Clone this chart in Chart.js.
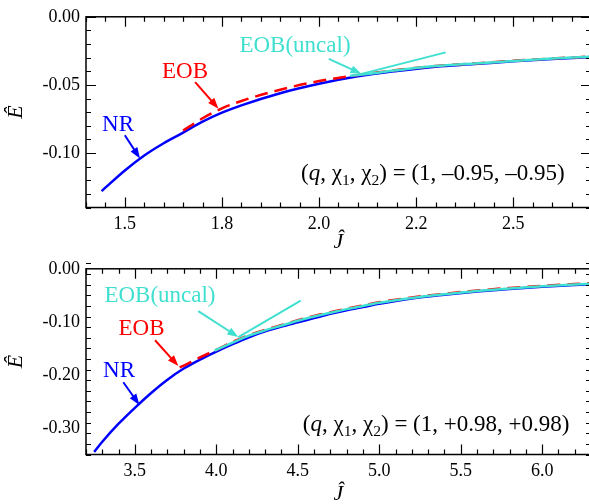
<!doctype html>
<html>
<head>
<title>E vs J</title>
<script src="https://cdn.jsdelivr.net/npm/chart.js@4.4.0/dist/chart.umd.min.js"></script>
<style>
  body { margin: 0; overflow: hidden; background: #fff; }
  .panel { position: absolute; left: 0; width: 592px; height: 252px; }
</style>
</head>
<body>
<div class="panel" style="top:0"><canvas id="topChart" width="592" height="252"></canvas></div>
<div class="panel" style="top:252px"><canvas id="bottomChart" width="592" height="252"></canvas></div>

<script>
// ---- top panel: (q, chi1, chi2) = (1, -0.95, -0.95)
var nrJTop  = [1.44, 1.5, 1.55, 1.6, 1.65, 1.7, 1.75, 1.8, 1.9, 2.0, 2.1, 2.2, 2.3, 2.4, 2.5, 2.6, 2.7];
var nrETop  = [-0.128, -0.1128, -0.1018, -0.0928, -0.0850, -0.0770, -0.0704, -0.0650, -0.0561, -0.0492, -0.0437, -0.0398, -0.0366, -0.0347, -0.0327, -0.0310, -0.0295];
var eobJTop = [1.65, 1.7, 1.75, 1.8, 1.9, 2.0, 2.1, 2.2, 2.3, 2.4, 2.5, 2.6, 2.7];
var eobETop = [-0.0835, -0.0745, -0.0672, -0.0618, -0.0535, -0.0472, -0.0427, -0.0391, -0.0361, -0.0342, -0.0323, -0.0306, -0.0292];
var uncJTop = [2.08, 2.1, 2.2, 2.3, 2.4, 2.5, 2.6, 2.7];
var uncETop = [-0.0432, -0.0428, -0.0393, -0.0362, -0.0343, -0.0324, -0.0307, -0.0293];
var xTicksTop  = [1.5, 1.75, 2.0, 2.25, 2.5];
var xLabelsTop = ['1.5', '1.8', '2.0', '2.2', '2.5'];
var yTicksTop  = [0, -0.05, -0.10];
var yLabelsTop = ['0.00', '-0.05', '-0.10'];

// ---- bottom panel: (q, chi1, chi2) = (1, +0.98, +0.98)
var nrJBot  = [3.25, 3.3, 3.4, 3.5, 3.6, 3.7, 3.8, 3.9, 4.0, 4.1, 4.2, 4.3, 4.4, 4.5, 4.6, 4.7, 4.8, 4.9, 5.0, 5.2, 5.4, 5.6, 5.8, 6.0, 6.3];
var nrEBot  = [-0.345, -0.326, -0.292, -0.262, -0.234, -0.209, -0.188, -0.171, -0.156, -0.142, -0.129, -0.118, -0.109, -0.101, -0.093, -0.085, -0.078, -0.072, -0.066, -0.056, -0.049, -0.043, -0.038, -0.034, -0.029];
var eobJBot = [3.775, 3.85, 3.9, 4.0, 4.1, 4.2, 4.3, 4.4, 4.5, 4.6, 4.7, 4.8, 4.9, 5.0, 5.2, 5.4, 5.6, 5.8, 6.0, 6.3];
var eobEBot = [-0.186, -0.175, -0.167, -0.153, -0.138, -0.125, -0.115, -0.106, -0.097, -0.089, -0.082, -0.075, -0.069, -0.063, -0.054, -0.047, -0.041, -0.036, -0.032, -0.027];
var uncJBot = [3.99, 4.1, 4.2, 4.3, 4.4, 4.5, 4.6, 4.7, 4.8, 4.9, 5.0, 5.2, 5.4, 5.6, 5.8, 6.0, 6.3];
var uncEBot = [-0.154, -0.139, -0.126, -0.116, -0.107, -0.098, -0.090, -0.083, -0.076, -0.070, -0.064, -0.055, -0.048, -0.042, -0.037, -0.033, -0.028];
var xTicksBot  = [3.5, 4.0, 4.5, 5.0, 5.5, 6.0];
var xLabelsBot = ['3.5', '4.0', '4.5', '5.0', '5.5', '6.0'];
var yTicksBot  = [0, -0.10, -0.20, -0.30];
var yLabelsBot = ['0.00', '-0.10', '-0.20', '-0.30'];

var BLUE = '#0000ff', RED = '#ff0000', TURQ = '#40e0d0';
var SERIF = '"Liberation Serif", "Times New Roman", serif';

function pts(xs, ys) {
  return xs.map(function (x, i) { return {x: x, y: ys[i]}; });
}

// frame with inward ticks on all four sides, plus the labels / arrows
var decoPlugin = {
  id: 'deco',
  afterDraw: function (chart, args, opts) {
    var ctx = chart.ctx, a = chart.chartArea;
    var sx = chart.scales.x, sy = chart.scales.y;
    var X = function (v) { return sx.getPixelForValue(v); };
    var Y = function (v) { return sy.getPixelForValue(v); };
    ctx.save();
    ctx.strokeStyle = '#000';
    ctx.lineWidth = 1.5;
    ctx.strokeRect(a.left, a.top, a.right - a.left, a.bottom - a.top);
    ctx.lineWidth = 1.2;
    ctx.beginPath();
    var n, v, len, p;
    n = Math.round((opts.xMax - opts.xMin) / opts.xMinor);
    for (var i = 0; i <= n; i++) {
      v = opts.xMin + i * opts.xMinor;
      len = opts.xMajor.some(function (m) { return Math.abs(m - v) < 1e-6; }) ? 10 : 5;
      p = Math.round(X(v)) + 0.5;
      ctx.moveTo(p, a.bottom); ctx.lineTo(p, a.bottom - len);
      ctx.moveTo(p, a.top); ctx.lineTo(p, a.top + len);
    }
    n = Math.round((opts.yMax - opts.yMin) / opts.yMinor);
    for (var j = 0; j <= n; j++) {
      v = opts.yMin + j * opts.yMinor;
      len = opts.yMajor.some(function (m) { return Math.abs(m - v) < 1e-6; }) ? 10 : 5;
      p = Math.round(Y(v)) + 0.5;
      ctx.moveTo(a.left, p); ctx.lineTo(a.left + len, p);
      ctx.moveTo(a.right, p); ctx.lineTo(a.right - len, p);
    }
    ctx.stroke();

    // labels
    ctx.textAlign = 'center';
    ctx.textBaseline = 'middle';
    opts.labels.forEach(function (l) {
      ctx.font = '23px ' + SERIF;
      ctx.fillStyle = l.color;
      ctx.fillText(l.text, X(l.at[0]), Y(l.at[1]));
    });

    // arrows and lines
    opts.arrows.forEach(function (ar) {
      var x0 = X(ar.from[0]), y0 = Y(ar.from[1]), x1 = X(ar.to[0]), y1 = Y(ar.to[1]);
      ctx.strokeStyle = ar.color;
      ctx.fillStyle = ar.color;
      ctx.lineWidth = 2;
      var ang = Math.atan2(y1 - y0, x1 - x0);
      var hl = ar.head ? 11 : 0;
      ctx.beginPath();
      ctx.moveTo(x0, y0);
      ctx.lineTo(x1 - Math.cos(ang) * hl * 0.8, y1 - Math.sin(ang) * hl * 0.8);
      ctx.stroke();
      if (ar.head) {
        ctx.beginPath();
        ctx.moveTo(x1, y1);
        ctx.lineTo(x1 - hl * Math.cos(ang) + 4 * Math.sin(ang), y1 - hl * Math.sin(ang) - 4 * Math.cos(ang));
        ctx.lineTo(x1 - hl * Math.cos(ang) - 4 * Math.sin(ang), y1 - hl * Math.sin(ang) + 4 * Math.cos(ang));
        ctx.closePath();
        ctx.fill();
      }
    });

    // parameter formula: (q, chi_1, chi_2) = (...)
    var f = opts.formula;
    var parts = [
      ['(', ''], ['q', 'italic '], [', ', ''], ['\u03c7', ''], ['1', 'sub'], [', ', ''],
      ['\u03c7', ''], ['2', 'sub'], [') = ' + f.value, '']
    ];
    var fs = 23;
    var fontFor = function (pt) {
      return pt[1] === 'sub' ? (fs * 0.68) + 'px ' + SERIF : pt[1] + fs + 'px ' + SERIF;
    };
    var total = 0;
    parts.forEach(function (pt) { ctx.font = fontFor(pt); total += ctx.measureText(pt[0]).width; });
    var cx = X(f.at[0]) - total / 2, cy = Y(f.at[1]);
    ctx.fillStyle = '#000';
    ctx.textAlign = 'left';
    ctx.textBaseline = 'alphabetic';
    parts.forEach(function (pt) {
      ctx.font = fontFor(pt);
      ctx.fillText(pt[0], cx, pt[1] === 'sub' ? cy + 5 : cy);
      cx += ctx.measureText(pt[0]).width;
    });
    ctx.restore();
  }
};

function makePanel(id, d) {
  var tickFont = {family: SERIF, size: 18};
  var line = {showLine: true, pointRadius: 0, borderWidth: 2.5, cubicInterpolationMode: 'monotone'};
  return new Chart(document.getElementById(id), {
    type: 'scatter',
    data: {
      datasets: [
        Object.assign({data: pts(d.uncJ, d.uncE), borderColor: TURQ}, line),
        Object.assign({data: pts(d.eobJ, d.eobE), borderColor: RED, borderDash: [13, 7]}, line),
        Object.assign({data: pts(d.nrJ, d.nrE), borderColor: BLUE}, line)
      ]
    },
    options: {
      responsive: false,
      animation: false,
      events: [],
      layout: {padding: {top: d.padTop, right: 1, left: 0, bottom: 0}},
      plugins: {
        legend: {display: false},
        tooltip: {enabled: false},
        deco: d.deco
      },
      scales: {
        x: {
          type: 'linear', min: d.xMin, max: d.xMax,
          grid: {display: false, drawTicks: false},
          border: {display: false},
          afterBuildTicks: function (s) { s.ticks = d.xTicks.map(function (v) { return {value: v}; }); },
          afterFit: function (s) { s.height = d.xAxisH; },
          ticks: {
            callback: function (v, i) { return d.xLabels[i]; },
            font: tickFont, color: '#000', padding: 6, maxRotation: 0, autoSkip: false
          },
          title: {display: true, text: '\u0134', color: '#000', padding: {bottom: -3},
                  font: {family: SERIF, size: 22, style: 'italic'}}
        },
        y: {
          type: 'linear', min: d.yMin, max: 0,
          grid: {display: false, drawTicks: false},
          border: {display: false},
          afterBuildTicks: function (s) { s.ticks = d.yTicks.map(function (v) { return {value: v}; }); },
          afterFit: function (s) { s.width = 86; },
          ticks: {
            callback: function (v, i) { return d.yLabels[i]; },
            font: tickFont, color: '#000', padding: 6, autoSkip: false
          },
          title: {display: true, text: '\u00ca', color: '#000', padding: {top: 3},
                  font: {family: SERIF, size: 22, style: 'italic'}}
        }
      }
    },
    plugins: [decoPlugin]
  });
}

makePanel('topChart', {
  nrJ: nrJTop, nrE: nrETop, eobJ: eobJTop, eobE: eobETop, uncJ: uncJTop, uncE: uncETop,
  xMin: 1.4, xMax: 2.7, yMin: -0.14,
  xTicks: xTicksTop, xLabels: xLabelsTop, yTicks: yTicksTop, yLabels: yLabelsTop,
  padTop: 16, xAxisH: 44.5,
  deco: {
    xMin: 1.4, xMax: 2.7, xMinor: 0.05, xMajor: xTicksTop,
    yMin: -0.14, yMax: 0, yMinor: 0.01, yMajor: yTicksTop,
    labels: [
      {text: 'NR', color: BLUE, at: [1.4825, -0.0797]},
      {text: 'EOB', color: RED, at: [1.655, -0.0402]},
      {text: 'EOB(uncal)', color: TURQ, at: [1.938, -0.0212]}
    ],
    arrows: [
      {from: [1.5, -0.087], to: [1.539, -0.104], color: BLUE, head: true},
      {from: [1.681, -0.048], to: [1.741, -0.0675], color: RED, head: true},
      {from: [2.025, -0.0309], to: [2.109, -0.0419], color: TURQ, head: true},
      {from: [2.109, -0.0419], to: [2.326, -0.0261], color: TURQ, head: false}
    ],
    formula: {value: '(1, \u20130.95, \u20130.95)', at: [2.293, -0.1195]}
  }
});

makePanel('bottomChart', {
  nrJ: nrJBot, nrE: nrEBot, eobJ: eobJBot, eobE: eobEBot, uncJ: uncJBot, uncE: uncEBot,
  xMin: 3.2, xMax: 6.3, yMin: -0.35,
  xTicks: xTicksBot, xLabels: xLabelsBot, yTicks: yTicksBot, yLabels: yLabelsBot,
  padTop: 11, xAxisH: 49.5,
  deco: {
    xMin: 3.2, xMax: 6.3, xMinor: 0.1, xMajor: xTicksBot,
    yMin: -0.35, yMax: 0, yMinor: 0.02, yMajor: yTicksBot,
    labels: [
      {text: 'NR', color: BLUE, at: [3.403, -0.192]},
      {text: 'EOB', color: RED, at: [3.541, -0.1143]},
      {text: 'EOB(uncal)', color: TURQ, at: [3.654, -0.0521]}
    ],
    arrows: [
      {from: [3.429, -0.2139], to: [3.528, -0.2565], color: BLUE, head: true},
      {from: [3.624, -0.1347], to: [3.767, -0.1834], color: RED, head: true},
      {from: [3.889, -0.0799], to: [4.135, -0.1286], color: TURQ, head: true},
      {from: [4.135, -0.1286], to: [4.518, -0.0598], color: TURQ, head: false}
    ],
    formula: {value: '(1, +0.98, +0.98)', at: [5.349, -0.305]}
  }
});
</script>
</body>
</html>
